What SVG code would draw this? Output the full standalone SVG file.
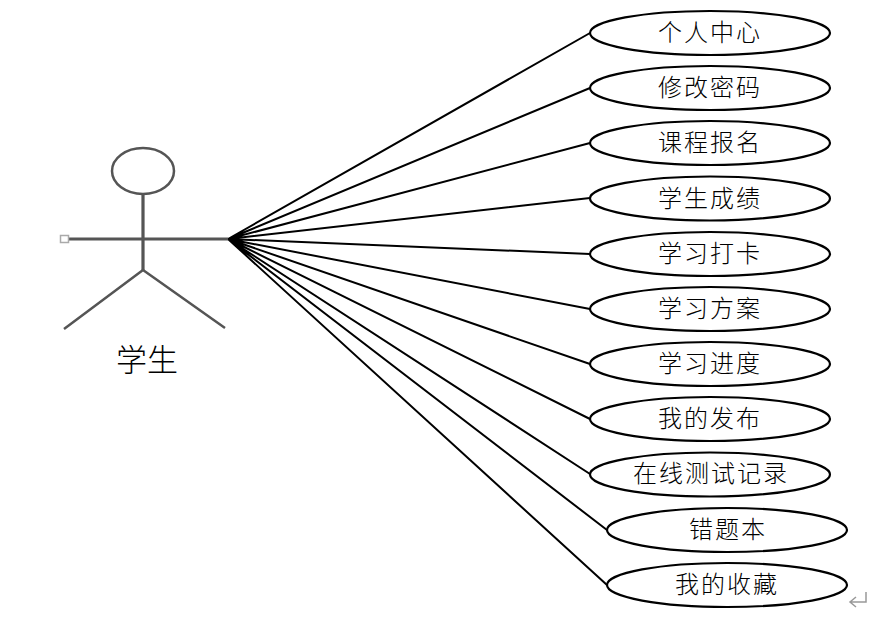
<svg xmlns="http://www.w3.org/2000/svg" width="887" height="617" viewBox="0 0 887 617">
<style>
.e{fill:#fff;stroke:#000;stroke-width:2.2}
.c{stroke:#000;stroke-width:2;fill:none}
.a{stroke:#555;stroke-width:2.500;fill:none}
.b{stroke:#555;stroke-width:3.200;fill:none}
text{font-family:"Noto Sans CJK SC","Liberation Serif",serif;font-size:24px;font-weight:300;fill:#000;text-anchor:middle}
.l{letter-spacing:2px}
</style>
<rect width="887" height="617" fill="#fff"/>
<g id="connectors">
<path class="c" d="M228 239L590 33M228 239L590 88M228 239L590 143M228 239L590 198M228 239L590 254M228 239L590 309M228 239L590 364M228 239L590 419M228 239L590 474M228 239L607 530M228 239L607 585"/>
</g>
<g id="actor">
<ellipse class="a" cx="143" cy="171" rx="31" ry="23"/>
<path class="b" d="M143 194V270M68 239H228"/>
<path class="a" d="M143 270L64 329M143 270L225 328"/>
<rect x="60.500" y="235.500" width="8" height="7" fill="#fff" stroke="#aaa" stroke-width="1.500"/>
<text x="147" y="371" style="font-size:31px">学生</text>
</g>
<g id="n1"><ellipse class="e" cx="710" cy="33" rx="120" ry="22"/><text class="l" x="710" y="41">个人中心</text></g>
<g id="n2"><ellipse class="e" cx="710" cy="88" rx="120" ry="22"/><text class="l" x="710" y="96">修改密码</text></g>
<g id="n3"><ellipse class="e" cx="710" cy="143" rx="120" ry="22"/><text class="l" x="710" y="151">课程报名</text></g>
<g id="n4"><ellipse class="e" cx="710" cy="198.500" rx="120" ry="22"/><text class="l" x="710" y="207">学生成绩</text></g>
<g id="n5"><ellipse class="e" cx="710" cy="254" rx="120" ry="22"/><text class="l" x="710" y="262">学习打卡</text></g>
<g id="n6"><ellipse class="e" cx="710" cy="309" rx="120" ry="22"/><text class="l" x="710" y="317">学习方案</text></g>
<g id="n7"><ellipse class="e" cx="710" cy="364" rx="120" ry="22"/><text class="l" x="710" y="372">学习进度</text></g>
<g id="n8"><ellipse class="e" cx="710" cy="419" rx="120" ry="22"/><text class="l" x="710" y="427">我的发布</text></g>
<g id="n9"><ellipse class="e" cx="710" cy="474.500" rx="120" ry="22"/><text class="l" x="711" y="482">在线测试记录</text></g>
<g id="n10"><ellipse class="e" cx="727" cy="530" rx="120" ry="22"/><text class="l" x="728" y="538">错题本</text></g>
<g id="n11"><ellipse class="e" cx="727" cy="585" rx="120" ry="22"/><text class="l" x="727" y="593">我的收藏</text></g>
<path d="M866 592V602H851M856 597L850 602L856 607" fill="none" stroke="#999" stroke-width="1.500"/>
</svg>
